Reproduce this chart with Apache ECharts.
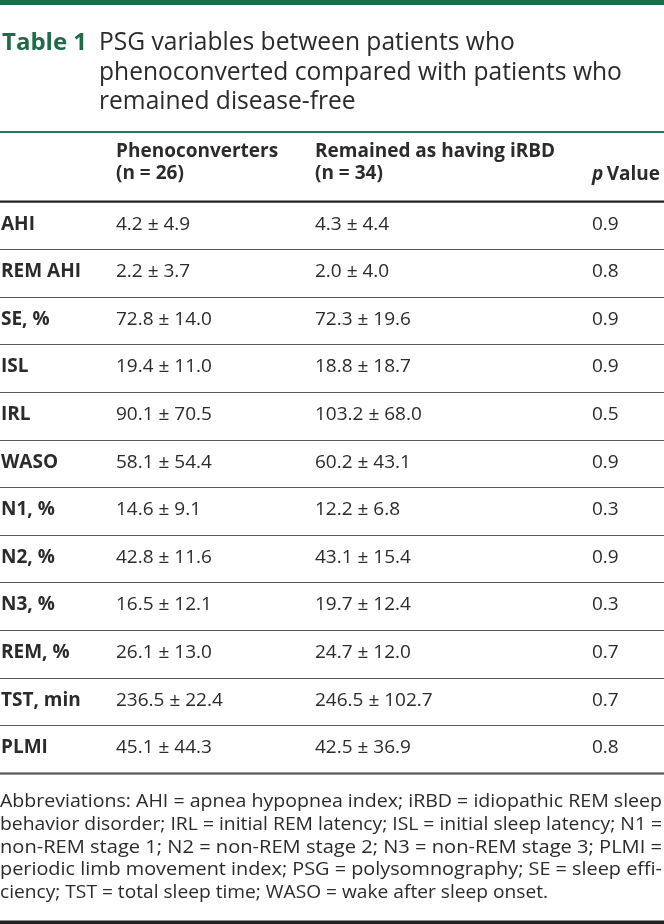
<!DOCTYPE html>
<html><head><meta charset="utf-8">
<script src="https://cdn.jsdelivr.net/npm/echarts@6/dist/echarts.min.js"></script>
<style>html,body{margin:0;padding:0;background:#fff}#c{width:664px;height:924px}</style>
</head><body><div id="c"></div>
<script>
// ---- data ----
const variables = ['AHI','REM AHI','SE, %','ISL','IRL','WASO','N1, %','N2, %','N3, %','REM, %','TST, min','PLMI'];
const phenoMean = [4.2, 2.2, 72.8, 19.4, 90.1, 58.1, 14.6, 42.8, 16.5, 26.1, 236.5, 45.1];
const phenoSD   = [4.9, 3.7, 14.0, 11.0, 70.5, 54.4, 9.1, 11.6, 12.1, 13.0, 22.4, 44.3];
const remMean   = [4.3, 2.0, 72.3, 18.8, 103.2, 60.2, 12.2, 43.1, 19.7, 24.7, 246.5, 42.5];
const remSD     = [4.4, 4.0, 19.6, 18.7, 68.0, 43.1, 6.8, 15.4, 12.4, 12.0, 102.7, 36.9];
const pValue    = [0.9, 0.8, 0.9, 0.9, 0.5, 0.9, 0.3, 0.9, 0.3, 0.7, 0.7, 0.8];
const headers1  = ['', 'Phenoconverters', 'Remained as having iRBD', ''];
const headers2  = ['', '(n = 26)', '(n = 34)', 'p Value'];
const titleLabel = 'Table 1';
const titleLines = ['PSG variables between patients who', 'phenoconverted compared with patients who', 'remained disease-free'];
const footLines = [
  'Abbreviations: AHI = apnea hypopnea index; iRBD = idiopathic REM sleep',
  'behavior disorder; IRL = initial REM latency; ISL = initial sleep latency; N1 =',
  'non-REM stage 1; N2 = non-REM stage 2; N3 = non-REM stage 3; PLMI =',
  'periodic limb movement index; PSG = polysomnography; SE = sleep effi-',
  'ciency; TST = total sleep time; WASO = wake after sleep onset.'
];

// ---- layout ----
const colX = [1, 116, 315, 592];
const GREEN = '#1d6b48';
const TEXT = '#2b2b2b';
const FONT = '"Open Sans", "DejaVu Sans", sans-serif';
const BODY = 19;
const fmt = (m, s) => m.toFixed(1) + ' \u00b1 ' + s.toFixed(1);

const measure = (() => {
  const ctx = document.createElement('canvas').getContext('2d');
  return (t, f) => { ctx.font = f; return ctx.measureText(t).width; };
})();

const graphics = [];
graphics.push({type:'rect', shape:{x:0, y:0, width:664, height:5}, style:{fill:GREEN}});
graphics.push({type:'text', x:2, y:43, style:{text:titleLabel, font:'bold 24px ' + FONT, fill:GREEN, textVerticalAlign:'middle', verticalAlign:'middle'}});
titleLines.forEach((t, i) => graphics.push({type:'text', x:99, y:43 + i*29.5, style:{text:t, font:'24.6px ' + FONT, fill:TEXT, textVerticalAlign:'middle', verticalAlign:'middle'}}));
graphics.push({type:'rect', shape:{x:0, y:131, width:664, height:2}, style:{fill:'#2e7a57'}});
// headers
[1,2].forEach(i => {
  graphics.push({type:'text', x:colX[i], y:152, style:{text:headers1[i], font:'bold ' + BODY + 'px ' + FONT, fill:TEXT, textVerticalAlign:'middle', verticalAlign:'middle'}});
  graphics.push({type:'text', x:colX[i], y:174, style:{text:headers2[i], font:'bold ' + BODY + 'px ' + FONT, fill:TEXT, textVerticalAlign:'middle', verticalAlign:'middle'}});
});
graphics.push({type:'text', x:colX[3], y:175, style:{text:'{i|p} {b|Value}', fill:TEXT, textVerticalAlign:'middle', verticalAlign:'middle',
  rich:{i:{font:'italic bold ' + BODY + 'px ' + FONT, fill:TEXT}, b:{font:'bold ' + BODY + 'px ' + FONT, fill:TEXT}}}});
graphics.push({type:'rect', shape:{x:0, y:200.5, width:664, height:2}, style:{fill:'#222'}});
graphics.push({type:'rect', shape:{x:0, y:772.5, width:664, height:2}, style:{fill:'#333'}});
// footnote (justified by horizontal scaling)
const footFont = '18px ' + FONT;
const footTargets = [662, 662, 662, 662, 548];
footLines.forEach((t, i) => {
  const w = measure(t, footFont);
  graphics.push({type:'text', x:0, y:802 + i*22.7, scaleX: footTargets[i] / w, style:{text:t, font:footFont, fill:TEXT, textVerticalAlign:'middle', verticalAlign:'middle'}});
});
graphics.push({type:'rect', shape:{x:0, y:920.5, width:664, height:4}, style:{fill:'#222'}});

const chart = echarts.init(document.getElementById('c'));
chart.setOption({
  animation:false,
  backgroundColor:'#fff',
  grid:{left:0, right:0, top:202, height:571},
  xAxis:{type:'value', min:0, max:664, show:false},
  yAxis:{type:'category', inverse:true, data:variables, boundaryGap:true,
    axisLine:{show:false}, axisTick:{show:false}, axisLabel:{show:false},
    splitLine:{show:true, interval:0, lineStyle:{color:'#5a5a5a', width:1.2}}},
  graphic:graphics,
  series:[{
    type:'custom',
    data: variables.map((v, i) => [0, i]),
    encode:{x:0, y:1},
    renderItem: function (params, api) {
      const r = api.value(1);
      const texts = [variables[r], fmt(phenoMean[r], phenoSD[r]), fmt(remMean[r], remSD[r]), pValue[r].toFixed(1)];
      return {type:'group', children: texts.map((t, i) => {
        const p = api.coord([colX[i], r]);
        return {type:'text', x:p[0], y:p[1] - 1.5, style:{text:t, font:(i === 0 ? 'bold ' : '') + BODY + 'px ' + FONT, fill:TEXT, textAlign:'left', textVerticalAlign:'middle', verticalAlign:'middle'}};
      })};
    }
  }]
});
</script>
</body></html>
